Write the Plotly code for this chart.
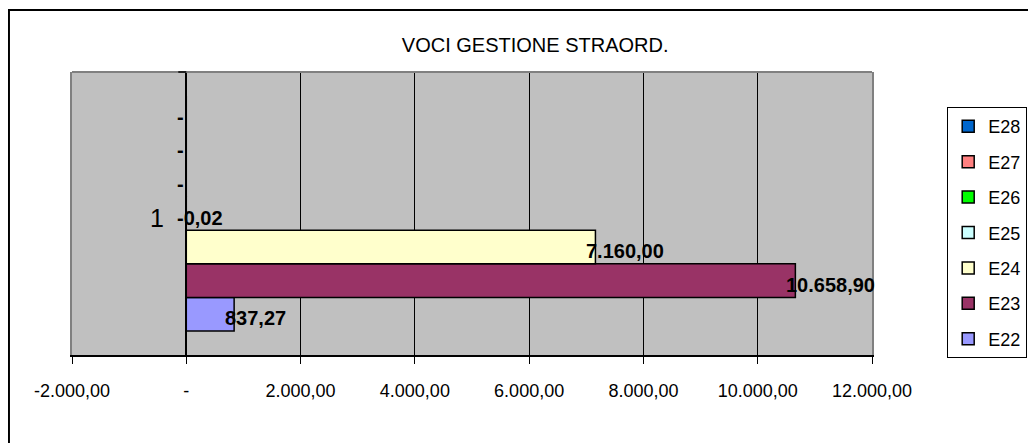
import plotly.graph_objects as go

# data
category = "1"
series = ["E22", "E23", "E24", "E25", "E26", "E27", "E28"]
values = [837.27, 10658.90, 7160.00, -0.02, 0.0, 0.0, 0.0]
colors = ["#9999FF", "#993366", "#FFFFCC", "#CCFFFF", "#00FF00", "#FF8080", "#0066CC"]
x_ticks = [-2000, 0, 2000, 4000, 6000, 8000, 10000, 12000]

FONT = "Liberation Sans, Arial, sans-serif"
BAR_GAP = 0.17
PLOT_H = 283


def fmt_it(v):
    if v == 0:
        return "-"
    s = f"{abs(v):,.2f}".replace(",", "_").replace(".", ",").replace("_", ".")
    return ("-" if v < 0 else "") + s


fig = go.Figure()
for i, (name, val, col) in enumerate(zip(series, values, colors)):
    fig.add_trace(go.Bar(
        x=[val], y=[category], name=name, orientation="h", legendgroup=name,
        legendrank=len(series) - i,  # E28 on top of the legend
        marker=dict(color=col, line=dict(color="black", width=1.5)),
    ))

# data labels, Excel-style: start just left of the bar end
bar_px = PLOT_H * (1 - BAR_GAP) / len(series)
mid = (len(series) - 1) / 2
for i, val in enumerate(values):
    fig.add_annotation(
        x=val, y=0, xref="x", yref="y", text=f"<b>{fmt_it(val)}</b>",
        showarrow=False, xanchor="left", yanchor="middle",
        xshift=-11, yshift=(i - mid) * bar_px - 4,
        font=dict(family=FONT, size=20, color="black"),
    )

# category label next to the value axis zero
fig.add_annotation(x=0, y=0, xref="x", yref="y", text=category, showarrow=False,
                   xanchor="right", yanchor="middle", xshift=-20, yshift=-4,
                   font=dict(family=FONT, size=25, color="black"))

# outer chart border (extends past the right/bottom edge like the reference)
fig.add_shape(type="rect", xref="paper", yref="paper", x0=-0.0788, x1=2.0, y0=-2.0, y1=1.219,
              line=dict(color="black", width=2), fillcolor="rgba(0,0,0,0)", layer="below")
# top edge of plot area
fig.add_shape(type="line", xref="paper", yref="paper", x0=0, x1=1, y0=1, y1=1,
              line=dict(color="#808080", width=2))
# category axis tick at the top
fig.add_shape(type="line", xref="x", yref="paper", x0=-140, x1=0, y0=1, y1=1,
              line=dict(color="black", width=1.5))

fig.update_layout(
    width=1036, height=443,
    margin=dict(l=64, r=172, t=64, b=96, autoexpand=False),
    paper_bgcolor="white", plot_bgcolor="#C0C0C0",
    barmode="group", bargap=BAR_GAP, bargroupgap=0,
    font=dict(family=FONT, size=18, color="black"),
    title=dict(text="VOCI GESTIONE STRAORD.", x=0.579, xref="paper", xanchor="center",
               y=1 - 37 / 443, yanchor="middle", font=dict(family=FONT, size=20, color="black")),
    legend=dict(x=1.094, y=0.876, xanchor="left", yanchor="top", traceorder="grouped",
                bordercolor="black", borderwidth=1, bgcolor="white", tracegroupgap=9,
                font=dict(family=FONT, size=18, color="black")),
    showlegend=True,
)
fig.update_xaxes(
    range=[-2000, 12000], tickvals=x_ticks, ticktext=[fmt_it(v) for v in x_ticks],
    showgrid=True, gridcolor="black", gridwidth=1,
    zeroline=True, zerolinecolor="black", zerolinewidth=2,
    showline=True, linecolor="black", linewidth=1.5, automargin=False,
    ticks="outside", ticklen=7, tickcolor="black", ticklabelstandoff=12,
    tickfont=dict(family=FONT, size=18, color="black"),
)
fig.update_yaxes(
    type="category", range=[-0.5, 0.5], showticklabels=False, showgrid=False, zeroline=False,
    showline=True, mirror=True, linecolor="#808080", linewidth=2, ticks="", automargin=False,
)

fig.write_html("out.html")
